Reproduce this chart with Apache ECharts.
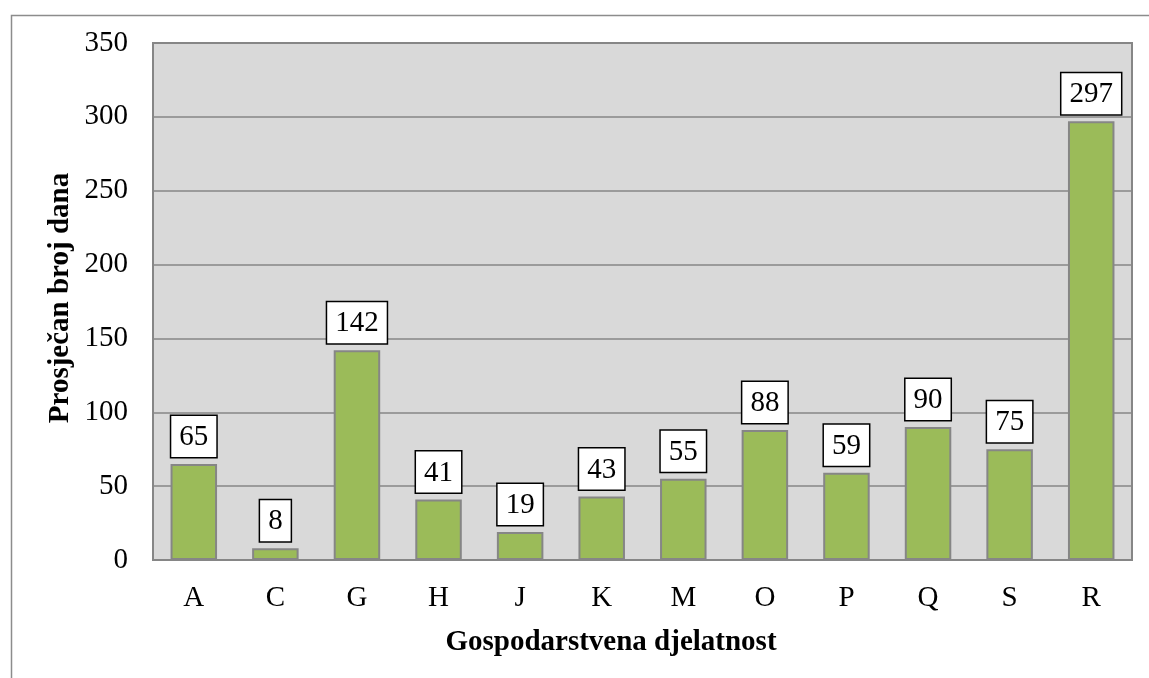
<!DOCTYPE html>
<html><head><meta charset="utf-8">
<script src="https://cdn.jsdelivr.net/npm/echarts@6/dist/echarts.min.js"></script>
<style>html,body{margin:0;padding:0;background:#fff}#c{width:1149px;height:678px}</style>
</head><body><div id="c"></div>
<script>
const categories = ['A','C','G','H','J','K','M','O','P','Q','S','R'];
const values = [65, 8, 142, 41, 19, 43, 55, 88, 59, 90, 75, 297];
const yTicks = {min: 0, max: 350, interval: 50};
const xTitle = 'Gospodarstvena djelatnost';
const yTitle = 'Prosječan broj dana';

const font = '"Liberation Serif","Times New Roman",serif';
const chart = echarts.init(document.getElementById('c'), null, {renderer: 'canvas'});
chart.setOption({
  animation: false,
  backgroundColor: '#fff',
  graphic: [{
    type: 'rect', left: 9, top: 13, shape: {width: 1200, height: 720},
    style: {fill: 'none', stroke: '#8c8c8c', lineWidth: 1.5}, silent: true, z: -1
  }, {
    type: 'text', x: 611, y: 643,
    style: {text: xTitle, font: 'bold 29px ' + font, fill: '#000', align: 'center', verticalAlign: 'middle'}
  }, {
    type: 'text', x: 61, y: 298, rotation: Math.PI / 2,
    style: {text: yTitle, font: 'bold 29px ' + font, fill: '#000', align: 'center', verticalAlign: 'middle'}
  }],
  grid: {left: 153, top: 43, right: 17, bottom: 118, show: true, backgroundColor: '#d9d9d9', borderColor: '#868686', borderWidth: 2},
  xAxis: {
    type: 'category', data: categories,
    axisLine: {show: false}, axisTick: {show: false},
    axisLabel: {fontFamily: font, fontSize: 29, color: '#000', margin: 24}
  },
  yAxis: {
    type: 'value', min: yTicks.min, max: yTicks.max, interval: yTicks.interval,
    axisLine: {show: false}, axisTick: {show: false},
    splitLine: {lineStyle: {color: '#868686', width: 1.5}},
    axisLabel: {fontFamily: font, fontSize: 29, color: '#000', margin: 25}
  },
  series: [{
    type: 'bar', data: values, barWidth: '57%',
    itemStyle: {color: '#9bbb59', borderColor: '#868686', borderWidth: 2},
    label: {
      show: true, position: 'top', distance: 7,
      fontFamily: font, fontSize: 29, color: '#000', lineHeight: 29,
      backgroundColor: '#fff', borderColor: '#000', borderWidth: 1.5, padding: [7, 8, 5, 8]
    }
  }]
});
</script></body></html>
